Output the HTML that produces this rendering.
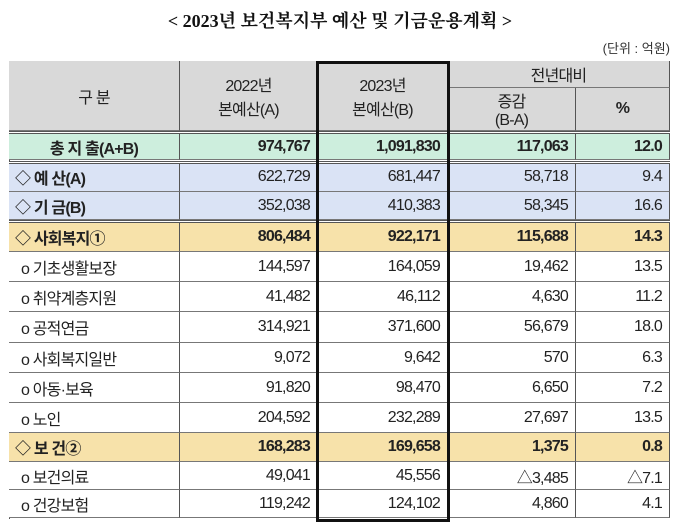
<!DOCTYPE html>
<html><head><meta charset="utf-8"><style>
body{margin:0;width:680px;height:526px;background:#fff;position:relative;overflow:hidden;font-family:"Liberation Sans","Noto Sans CJK KR","NanumGothic",sans-serif;color:#222}
.a{position:absolute;box-sizing:border-box}
.title{left:0;width:680px;top:7px;text-align:center;font-family:"Liberation Serif","Noto Serif CJK SC","NanumGothic",serif;font-weight:bold;font-size:18px;color:#111}
.unit{right:10px;top:38px;font-size:13px;color:#333}
.c{position:absolute;box-sizing:border-box;border-right:1px solid #555;border-bottom:1px solid #777;display:flex;align-items:center;font-size:16px;letter-spacing:-0.8px}
.r{justify-content:flex-end;padding-right:7px}
.l{padding-left:6px}
.li{padding-left:12px}
.m{justify-content:center;text-align:center}
.b{font-weight:bold}
</style></head><body>
<div class="a title">&lt; 2023년 보건복지부 예산 및 기금운용계획 &gt;</div>
<div class="a unit">(단위 : 억원)</div>
<div class="a" id="tbl" style="left:9px;top:61px;width:661px;height:458px;border-top:1px solid #555;border-left:1px solid #555"></div>
<div class="a" style="left:316px;top:61px;width:134px;height:461px;border:3px solid #111;z-index:5"></div>
<script>
const rowLabels=["총 지 출(A+B)","◇ 예 산(A)","◇ 기 금(B)","◇ 사회복지①","o 기초생활보장","o 취약계층지원","o 공적연금","o 사회복지일반","o 아동·보육","o 노인","◇ 보 건②","o 보건의료","o 건강보험"];
const val2022=["974,767","622,729","352,038","806,484","144,597","41,482","314,921","9,072","91,820","204,592","168,283","49,041","119,242"];
const val2023=["1,091,830","681,447","410,383","922,171","164,059","46,112","371,600","9,642","98,470","232,289","169,658","45,556","124,102"];
const diffs=["117,063","58,718","58,345","115,688","19,462","4,630","56,679","570","6,650","27,697","1,375","△3,485","4,860"];
const pcts=["12.0","9.4","16.6","14.3","13.5","11.2","18.0","6.3","7.2","13.5","0.8","△7.1","4.1"];
const rowTops=[134,163,192,223,252,282,312,343,373,403,433,462,490,518];
const colX=[9,180,318,448,576,670];
const fills=["#cdeedd","#dae3f5","#dae3f5","#f7e2aa","#fff","#fff","#fff","#fff","#fff","#fff","#f7e2aa","#fff","#fff"];
const bold=[1,0,0,1,0,0,0,0,0,0,1,0,0];
const body=document.body;
function cell(x,y,w,h,txt,cls,bg,name){
  const d=document.createElement('div');
  d.className='c '+cls;
  d.style.left=x+'px';d.style.top=y+'px';d.style.width=w+'px';d.style.height=h+'px';
  d.style.background=bg;d.innerHTML=txt;
  
  
  body.appendChild(d);return d;
}
const hg='#d9d9d9';
cell(9,61,171,70,'구 분','m',hg,'header-category');
cell(180,61,138,70,'2022년<br>본예산(A)','m',hg,'header-2022');
cell(318,61,130,70,'2023년<br>본예산(B)','m',hg,'header-2023');
cell(448,61,222,27,'전년대비','m',hg,'header-yoy');
cell(448,88,128,43,'증감<br>(B-A)','m',hg,'header-change');
cell(576,88,94,43,'%','m b',hg,'header-percent');
for(let i=0;i<rowLabels.length;i++){
  const y=rowTops[i],h=rowTops[i+1]-y-(i===0||i===2?3:0);
  const bc=bold[i]?' b':'';
  const sub=rowLabels[i].startsWith('o');
  cell(colX[0],y,colX[1]-colX[0],h,rowLabels[i],(i===0?'m':(sub?'li':'l'))+(i<4||i===10?' b':''),fills[i],'row-label-'+i);
  cell(colX[1],y,colX[2]-colX[1],h,val2022[i],'r'+bc,fills[i],'value-2022-'+i);
  cell(colX[2],y,colX[3]-colX[2],h,val2023[i],'r'+bc,fills[i],'value-2023-'+i);
  cell(colX[3],y,colX[4]-colX[3],h,diffs[i],'r'+bc,fills[i],'value-change-'+i);
  cell(colX[4],y,colX[5]-colX[4],h,pcts[i],'r'+bc,fills[i],'value-percent-'+i);
}
[131,161,220].forEach((y,k)=>{
  const d=document.createElement('div');
  d.className='a';d.style.left='9px';d.style.top=y+'px';d.style.width='661px';d.style.height='3px';
  d.style.borderTop='1px solid #555';d.style.borderBottom='1px solid #555';d.style.background='#fff';
  
  
  body.appendChild(d);
});
</script>
</body></html>
